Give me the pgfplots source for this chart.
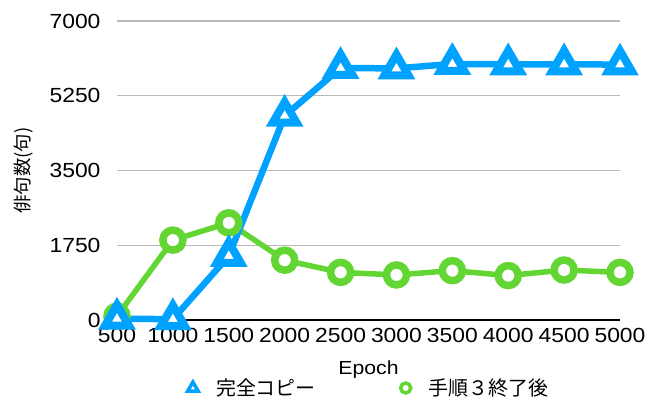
\documentclass[border=0pt]{standalone}
\usepackage{fontspec}
\setmainfont{Liberation Sans}
\newfontfamily\widesans[FakeStretch=1.12]{Liberation Sans}
\newfontfamily\jp{Noto Sans CJK JP}
\usepackage{pgfplots}
\pgfplotsset{compat=1.18}
\definecolor{seriesblue}{RGB}{0,162,255}
\definecolor{seriesgreen}{RGB}{99,214,52}
\definecolor{gridgray}{RGB}{185,185,185}

\begin{document}
\begin{tikzpicture}
\useasboundingbox (-117bp,-78bp) rectangle (543bp,320bp);
\begin{axis}[
  at={(0,0)}, anchor=south west,
  scale only axis, width=503bp, height=299bp,
  xmin=500, xmax=5000, ymin=0, ymax=7000,
  xtick={500,1000,...,5000},
  ytick={0,1750,3500,5250,7000},
  axis x line*=bottom, axis y line*=left,
  x axis line style={black, line width=2bp, -},
  y axis line style={draw=none},
  major tick length=0pt,
  ymajorgrids, grid style={gridgray, line width=1.5bp},
  scaled ticks=false,
  /pgf/number format/1000 sep={},
  /pgf/number format/assume math mode=true,
  tick label style={font=\widesans\fontsize{20.5}{24}\selectfont},
  xticklabel style={yshift=-5bp},
  yticklabel style={xshift=-13bp},
  xlabel={Epoch},
  ylabel={\jp 俳句数(句)},
  every axis x label/.style={at={(axis description cs:0.5,0)}, anchor=base, yshift=-54bp, font=\widesans\fontsize{19}{23}\selectfont},
  every axis y label/.style={at={(axis description cs:0,0.5)}, rotate=90, anchor=center, yshift=93bp, font=\fontsize{18.5}{22}\selectfont},
  clip=false,
  legend image code/.code={\draw[#1] plot coordinates {(0bp,0bp)};},
  legend style={at={(axis description cs:0.5,0)}, anchor=center, yshift=-68bp,
    draw=none, fill=none, font=\fontsize{20}{24}\selectfont,
    /tikz/every odd column/.append style={column sep=17bp},
    /tikz/every even column/.append style={column sep=84bp},
    nodes={inner sep=1bp}},
  legend columns=2,
]
% after completing step 3
\addplot[seriesgreen, line width=5.5bp, mark=*, mark size=10bp,
  mark options={fill=white, line width=7.5bp}, forget plot] coordinates {
  (500,90) (1000,1870) (1500,2275) (2000,1400) (2500,1115)
  (3000,1055) (3500,1155) (4000,1040) (4500,1170) (5000,1115)
};
% full copy
\addplot[seriesblue, line width=6.5bp, mark=triangle*, mark size=13.8bp,
  mark options={fill=white, line width=8bp}, forget plot] coordinates {
  (500,30) (1000,20) (1500,1500) (2000,4780) (2500,5900)
  (3000,5890) (3500,5995) (4000,5985) (4500,5985) (5000,5980)
};
\addlegendimage{mark=triangle*, draw=seriesblue, fill=white, mark size=6bp, line width=3.5bp}
\addlegendentry{\jp 完全コピー}
\addlegendimage{mark=*, draw=seriesgreen, fill=white, mark size=5bp, line width=3.5bp}
\addlegendentry{\jp 手順３終了後}
\end{axis}
\end{tikzpicture}
\end{document}
